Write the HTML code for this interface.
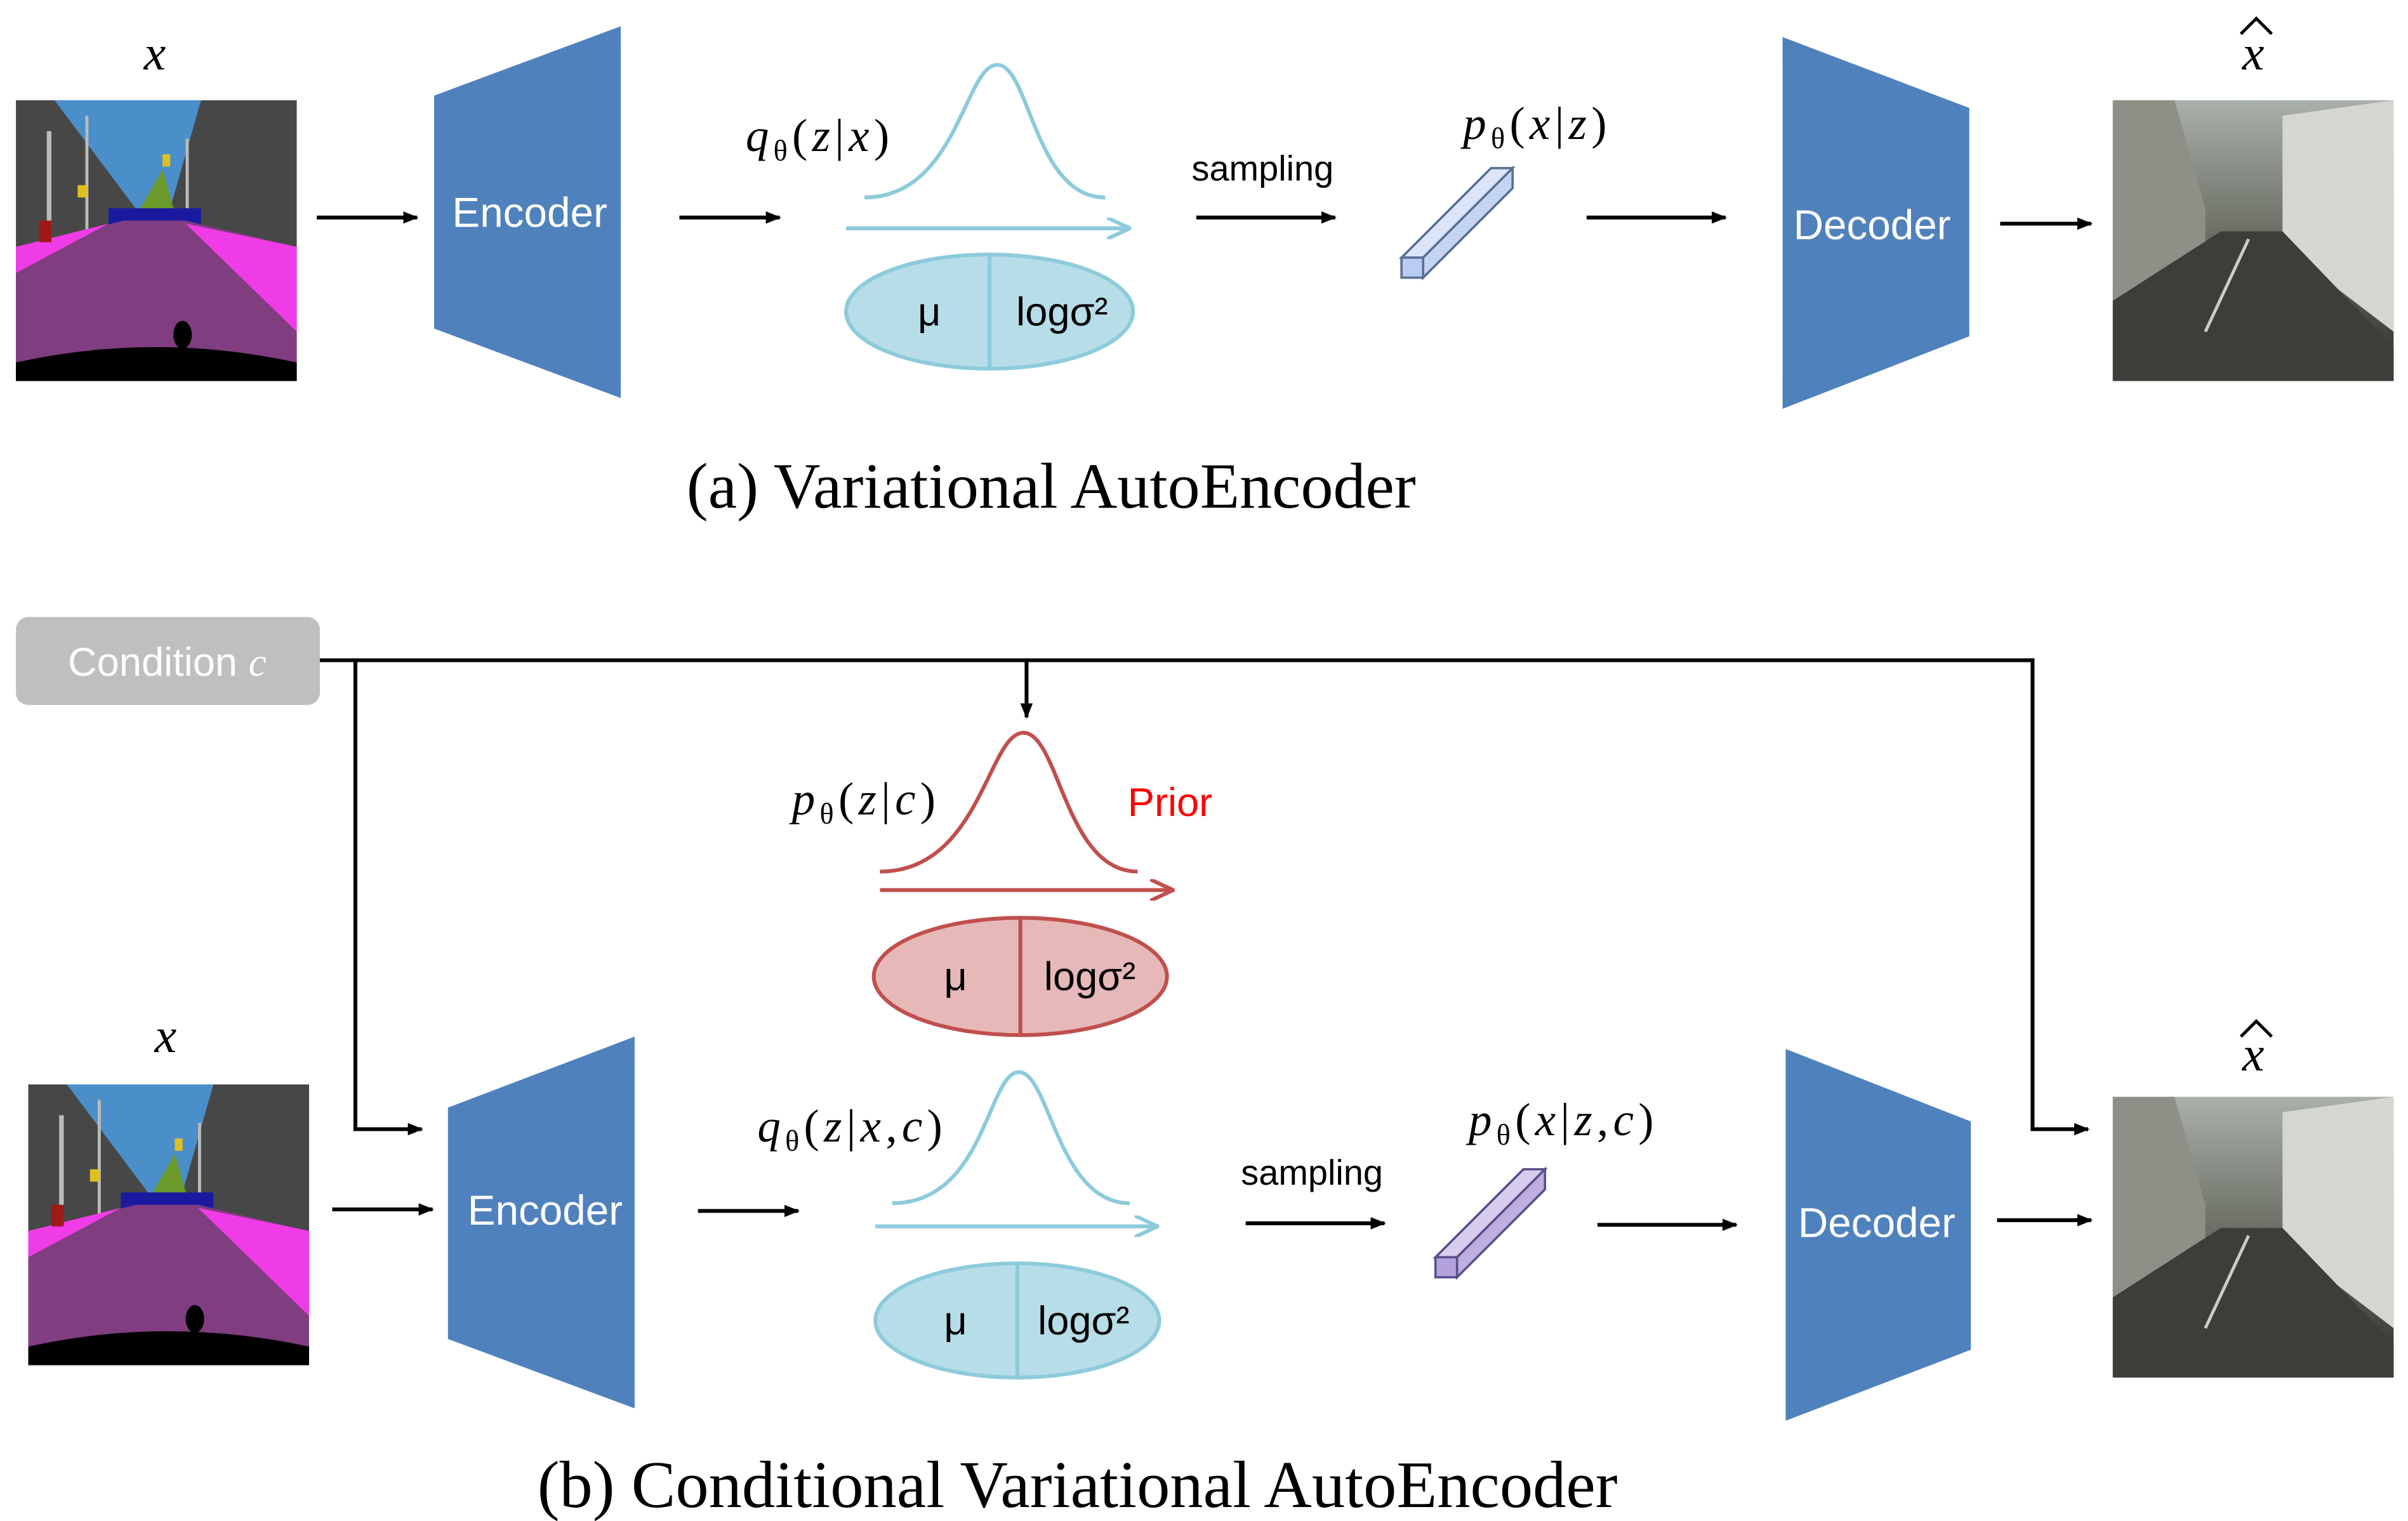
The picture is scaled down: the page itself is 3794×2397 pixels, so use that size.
<!DOCTYPE html>
<html><head><meta charset="utf-8"><style>
html,body{margin:0;padding:0;background:#fff;}
svg{display:block;}
text{font-family:"Liberation Sans",sans-serif;}
.s{font-family:"Liberation Serif",serif;}
.m{font-family:"Liberation Serif",serif;letter-spacing:3px;}
</style></head><body>
<svg width="3794" height="2397" viewBox="0 0 1560 986" xmlns="http://www.w3.org/2000/svg">
<defs>
<marker id="ah" markerWidth="10" markerHeight="8" refX="9" refY="4" orient="auto" markerUnits="userSpaceOnUse"><path d="M0,0 L10,4 L0,8 Z" fill="#000"/></marker>
<marker id="ab" markerWidth="16" markerHeight="14" refX="15" refY="7" orient="auto" markerUnits="userSpaceOnUse"><path d="M0,0 L15,7 L0,14" fill="none" stroke="#8dcbdb" stroke-width="2.5"/></marker>
<marker id="ar" markerWidth="16" markerHeight="14" refX="15" refY="7" orient="auto" markerUnits="userSpaceOnUse"><path d="M0,0 L15,7 L0,14" fill="none" stroke="#c0504d" stroke-width="2.5"/></marker>
<linearGradient id="st" x1="0" y1="0" x2="0" y2="1"><stop offset="0" stop-color="#aab0aa"/><stop offset="0.45" stop-color="#6e7268"/><stop offset="1" stop-color="#2e302c"/></linearGradient>
<g id="seg">
<rect width="182" height="182" fill="#474747"/>
<path d="M25,0 L120,0 L100,70 L85,80 L70,60 Z" fill="#4a8fc9"/>
<path d="M75,80 L95,45 L105,80 Z" fill="#6b9a2a"/>
<rect x="20" y="20" width="3" height="75" fill="#bbb"/><rect x="45" y="10" width="2" height="85" fill="#bbb"/><rect x="110" y="25" width="2" height="70" fill="#bbb"/>
<rect x="60" y="70" width="60" height="12" fill="#1a1aa0"/>
<path d="M0,95 L70,78 L110,78 L182,95 L182,182 L0,182 Z" fill="#803d80"/>
<path d="M0,95 L60,80 L0,112 Z" fill="#f03ce6"/>
<path d="M110,80 L182,95 L182,150 Z" fill="#f03ce6"/>
<path d="M0,170 Q90,150 182,170 L182,182 L0,182 Z" fill="#000"/>
<ellipse cx="108" cy="152" rx="6" ry="9" fill="#000"/>
<rect x="15" y="78" width="8" height="14" fill="#a01818"/><rect x="40" y="55" width="6" height="8" fill="#e0c020"/><rect x="95" y="35" width="5" height="8" fill="#e0c020"/>
</g>
<g id="photo">
<rect width="182" height="182" fill="url(#st)"/>
<path d="M0,0 L40,0 L60,70 L60,100 L0,130 Z" fill="#8e9088"/>
<path d="M110,10 L182,0 L182,150 L110,95 Z" fill="#d6d6d0"/>
<path d="M0,130 L70,85 L110,85 L182,160 L182,182 L0,182 Z" fill="#3c3e3a"/>
<path d="M88,90 L60,150" stroke="#ccc" stroke-width="2"/>
</g>
</defs>

<!-- (a) -->
<text x="100" y="45" class="s" font-size="32" font-style="italic" text-anchor="middle">x</text>
<use href="#seg" x="10" y="65"/>
<line x1="205" y1="141" x2="270" y2="141" stroke="#000" stroke-width="2.5" marker-end="url(#ah)"/>
<polygon points="281,62 402,17 402,258 281,213" fill="#4f81bd"/>
<text x="343" y="147" font-size="27" fill="#fff" text-anchor="middle">Encoder</text>
<line x1="440" y1="141" x2="505" y2="141" stroke="#000" stroke-width="2.5" marker-end="url(#ah)"/>
<text x="531" y="98" class="m" font-size="30" text-anchor="middle"><tspan font-style="italic">q</tspan><tspan font-size="19" dy="6">θ</tspan><tspan dy="-6">(</tspan><tspan font-style="italic">z</tspan>|<tspan font-style="italic">x</tspan>)</text>
<path d="M560,128 C620,128 625,42 646,42 C667,42 670,128 716,128" fill="none" stroke="#8dcbdb" stroke-width="2.5"/>
<line x1="548" y1="148" x2="732" y2="148" stroke="#8dcbdb" stroke-width="2.5" marker-end="url(#ab)"/>
<ellipse cx="641" cy="202" rx="93" ry="37" fill="#b7dde8" stroke="#8dcbdb" stroke-width="2.5"/>
<line x1="641" y1="165" x2="641" y2="239" stroke="#8dcbdb" stroke-width="2.5"/>
<text x="602" y="211" font-size="26" text-anchor="middle">μ</text>
<text x="688" y="211" font-size="26" text-anchor="middle">logσ²</text>
<text x="818" y="117" font-size="23" text-anchor="middle">sampling</text>
<line x1="775" y1="141" x2="865" y2="141" stroke="#000" stroke-width="2.5" marker-end="url(#ah)"/>
<text x="996" y="90" class="m" font-size="30" text-anchor="middle"><tspan font-style="italic">p</tspan><tspan font-size="19" dy="6">θ</tspan><tspan dy="-6">(</tspan><tspan font-style="italic">x</tspan>|<tspan font-style="italic">z</tspan>)</text>
<polygon points="908,167 966,109 980,109 922,167" fill="#dae6f8" stroke="#5a6f96" stroke-width="1.5"/>
<polygon points="922,167 980,109 980,122 922,180" fill="#c4d5f0" stroke="#5a6f96" stroke-width="1.5"/>
<rect x="908" y="167" width="14" height="13" fill="#b8cdf0" stroke="#5a6f96" stroke-width="1.5"/>
<line x1="1028" y1="141" x2="1118" y2="141" stroke="#000" stroke-width="2.5" marker-end="url(#ah)"/>
<polygon points="1155,24 1276,70 1276,218 1155,265" fill="#4f81bd"/>
<text x="1213" y="155" font-size="27" fill="#fff" text-anchor="middle">Decoder</text>
<line x1="1296" y1="145" x2="1355" y2="145" stroke="#000" stroke-width="2.5" marker-end="url(#ah)"/>
<use href="#photo" x="1369" y="65"/>
<text x="1460" y="45" class="s" font-size="32" font-style="italic" text-anchor="middle">x</text>
<path d="M1452,22 L1462,12 L1472,22" fill="none" stroke="#000" stroke-width="2"/>
<text x="681" y="329" class="s" font-size="42" text-anchor="middle">(a) Variational AutoEncoder</text>

<!-- (b) -->
<rect x="10" y="400" width="197" height="57" rx="8" fill="#bfbfbf"/>
<text x="108" y="438" font-size="26" fill="#fff" text-anchor="middle">Condition <tspan class="s" font-style="italic">c</tspan></text>
<polyline points="207,428 1317,428 1317,732 1353,732" fill="none" stroke="#000" stroke-width="2.5" marker-end="url(#ah)"/>
<line x1="665" y1="428" x2="665" y2="465" stroke="#000" stroke-width="2.5" marker-end="url(#ah)"/>
<polyline points="230,428 230,732 273,732" fill="none" stroke="#000" stroke-width="2.5" marker-end="url(#ah)"/>

<text x="561" y="528" class="m" font-size="30" text-anchor="middle"><tspan font-style="italic">p</tspan><tspan font-size="19" dy="6">θ</tspan><tspan dy="-6">(</tspan><tspan font-style="italic">z</tspan>|<tspan font-style="italic">c</tspan>)</text>
<text x="758" y="529" font-size="26" fill="#ff0000" text-anchor="middle">Prior</text>
<path d="M570,565 C635,565 640,475 663,475 C686,475 690,565 737,565" fill="none" stroke="#c0504d" stroke-width="2.5"/>
<line x1="570" y1="577" x2="760" y2="577" stroke="#c0504d" stroke-width="2.5" marker-end="url(#ar)"/>
<ellipse cx="661" cy="633" rx="95" ry="38" fill="#e6b9b8" stroke="#c0504d" stroke-width="2.5"/>
<line x1="661" y1="595" x2="661" y2="671" stroke="#c0504d" stroke-width="2.5"/>
<text x="619" y="642" font-size="26" text-anchor="middle">μ</text>
<text x="706" y="642" font-size="26" text-anchor="middle">logσ²</text>

<text x="107" y="682" class="s" font-size="32" font-style="italic" text-anchor="middle">x</text>
<use href="#seg" x="18" y="703"/>
<line x1="215" y1="784" x2="280" y2="784" stroke="#000" stroke-width="2.5" marker-end="url(#ah)"/>
<polygon points="290,718 411,672 411,913 290,868" fill="#4f81bd"/>
<text x="353" y="794" font-size="27" fill="#fff" text-anchor="middle">Encoder</text>
<line x1="452" y1="785" x2="517" y2="785" stroke="#000" stroke-width="2.5" marker-end="url(#ah)"/>
<text x="552" y="740" class="m" font-size="30" text-anchor="middle"><tspan font-style="italic">q</tspan><tspan font-size="19" dy="6">θ</tspan><tspan dy="-6">(</tspan><tspan font-style="italic">z</tspan>|<tspan font-style="italic">x</tspan>,<tspan font-style="italic">c</tspan>)</text>
<path d="M578,780 C638,780 640,695 660,695 C680,695 685,780 732,780" fill="none" stroke="#8dcbdb" stroke-width="2.5"/>
<line x1="567" y1="795" x2="750" y2="795" stroke="#8dcbdb" stroke-width="2.5" marker-end="url(#ab)"/>
<ellipse cx="659" cy="856" rx="92" ry="37" fill="#b7dde8" stroke="#8dcbdb" stroke-width="2.5"/>
<line x1="659" y1="819" x2="659" y2="893" stroke="#8dcbdb" stroke-width="2.5"/>
<text x="619" y="865" font-size="26" text-anchor="middle">μ</text>
<text x="702" y="865" font-size="26" text-anchor="middle">logσ²</text>
<text x="850" y="768" font-size="23" text-anchor="middle">sampling</text>
<line x1="807" y1="793" x2="897" y2="793" stroke="#000" stroke-width="2.5" marker-end="url(#ah)"/>
<text x="1013" y="736" class="m" font-size="30" text-anchor="middle"><tspan font-style="italic">p</tspan><tspan font-size="19" dy="6">θ</tspan><tspan dy="-6">(</tspan><tspan font-style="italic">x</tspan>|<tspan font-style="italic">z</tspan>,<tspan font-style="italic">c</tspan>)</text>
<polygon points="930,815 987,758 1001,758 944,815" fill="#d9cdef" stroke="#5a4f8a" stroke-width="1.5"/>
<polygon points="944,815 1001,758 1001,771 944,828" fill="#bfaee0" stroke="#5a4f8a" stroke-width="1.5"/>
<rect x="930" y="815" width="14" height="13" fill="#b3a2dc" stroke="#5a4f8a" stroke-width="1.5"/>
<line x1="1035" y1="794" x2="1125" y2="794" stroke="#000" stroke-width="2.5" marker-end="url(#ah)"/>
<polygon points="1157,680 1277,727 1277,875 1157,921" fill="#4f81bd"/>
<text x="1216" y="802" font-size="27" fill="#fff" text-anchor="middle">Decoder</text>
<line x1="1294" y1="791" x2="1355" y2="791" stroke="#000" stroke-width="2.5" marker-end="url(#ah)"/>
<use href="#photo" x="1369" y="711"/>
<text x="1460" y="694" class="s" font-size="32" font-style="italic" text-anchor="middle">x</text>
<path d="M1452,672 L1462,662 L1472,672" fill="none" stroke="#000" stroke-width="2"/>
<text x="698" y="977" class="s" font-size="43" text-anchor="middle">(b) Conditional Variational AutoEncoder</text>
</svg>
</body></html>
